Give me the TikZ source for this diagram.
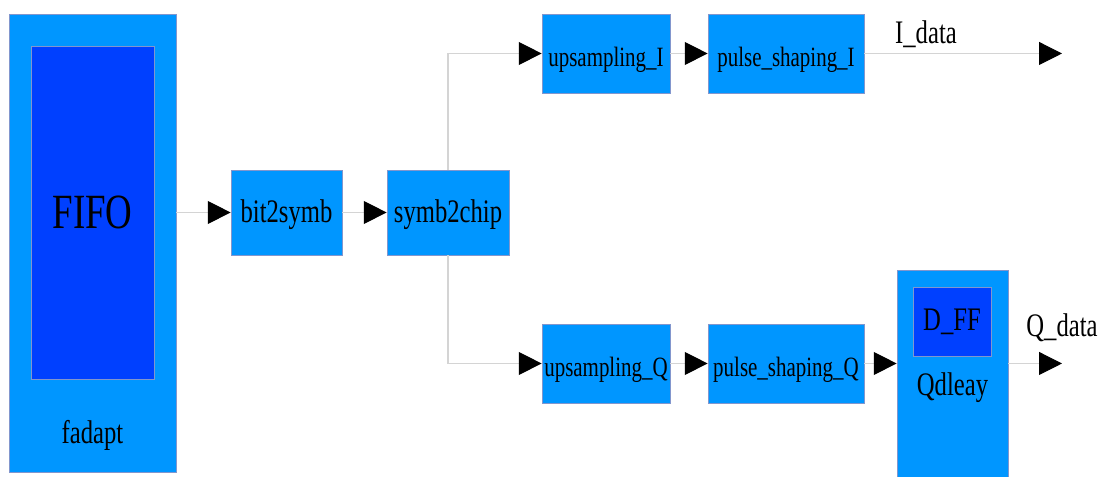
\documentclass[tikz,border=0pt]{standalone}
\usepackage{fontspec}
\setmainfont[FakeStretch=0.75]{Liberation Serif}
\usetikzlibrary{arrows.meta}
\definecolor{blk}{RGB}{0,150,255}
\definecolor{core}{RGB}{0,64,255}
\definecolor{edge}{RGB}{130,150,205}
\definecolor{wire}{RGB}{212,212,212}
\begin{document}
\begin{tikzpicture}[
block/.style={draw=edge, line width=.4pt, fill=blk, inner sep=0pt,
  font=\fontsize{18.7}{20}\selectfont},
small/.style={font=\fontsize{15.9}{17}\selectfont, text height=18pt},
core/.style={draw=edge, line width=.4pt, fill=core, inner sep=0pt},
link/.style={draw=wire, line width=.6pt,
  -{Triangle[length=13pt,width=13pt,color=black]}},
lbl/.style={font=\fontsize{18.7}{20}\selectfont}]
\useasboundingbox (0,0) rectangle (22.04,9.54);
\clip (0,0) rectangle (22.04,9.54);
% fadapt with its FIFO
\node[block, minimum width=3.34cm, minimum height=9.16cm] (fadapt) at (1.85,4.68) {};
\node[core, minimum width=2.46cm, minimum height=6.66cm,
  font=\fontsize{28}{30}\selectfont] (fifo) at (1.85,5.29) {FIFO};
\node[lbl] (fadaptname) at (1.85,0.84) {fadapt};
% mapping
\node[block, text height=16pt, minimum width=2.22cm, minimum height=1.70cm] (b2s) at (5.73,5.29) {bit2symb};
\node[block, text height=16pt, minimum width=2.44cm, minimum height=1.70cm] (s2c) at (8.96,5.29) {symb2chip};
% I branch
\node[block, small, minimum width=2.56cm, minimum height=1.58cm] (upI) at (12.12,8.47) {upsampling\_I};
\node[block, small, minimum width=3.12cm, minimum height=1.58cm] (psI) at (15.72,8.47) {pulse\_shaping\_I};
% Q branch
\node[block, small, minimum width=2.56cm, minimum height=1.58cm] (upQ) at (12.12,2.27) {upsampling\_Q};
\node[block, small, minimum width=3.12cm, minimum height=1.58cm] (psQ) at (15.72,2.27) {pulse\_shaping\_Q};
% Qdleay with its D_FF
\node[block, minimum width=2.22cm, minimum height=4.34cm] (qdl) at (19.05,1.97) {};
\node[core, lbl, minimum width=1.56cm, minimum height=1.38cm] (dff) at (19.04,3.11) {D\_FF};
\node[lbl] (qdlname) at (19.05,1.78) {Qdleay};
% outputs
\coordinate (iout) at (21.24,8.47);
\coordinate (qout) at (21.24,2.27);
\node[lbl] (idata) at (18.52,8.86) {I\_data};
\node[lbl] (qdata) at (21.24,2.98) {Q\_data};
% wires
\draw[link] (fadapt.east |- b2s.west) -- (b2s.west);
\draw[link] (b2s) -- (s2c);
\draw[link] (s2c.north) |- (upI.west);
\draw[link] (s2c.south) |- (upQ.west);
\draw[link] (upI) -- (psI);
\draw[link] (upQ) -- (psQ);
\draw[link] (psI.east) -- (iout);
\draw[link] (psQ.east) -- (qdl.west |- psQ.east);
\draw[link] (qdl.east |- qout) -- (qout);
\end{tikzpicture}
\end{document}
